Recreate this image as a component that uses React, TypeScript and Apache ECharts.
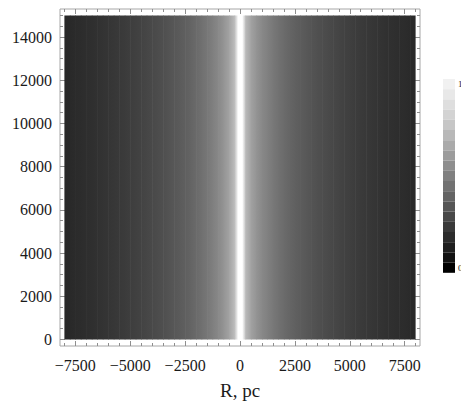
import React, { useEffect, useRef } from 'react';
import * as echarts from 'echarts';

// Sample positions along R (pc) and the brightness (0 = black, 1 = white)
const rCenters = [
  -8000, -7750, -7500, -7250, -7000, -6750, -6500, -6250, -6000, -5750, -5500, -5250, -5000, -4750, -4500, -4250,
  -4000, -3750, -3500, -3250, -3000, -2750, -2500, -2250, -2000, -1750, -1500, -1250, -1000, -750, -500, -250,
  -100, 0, 100,
  250, 500, 750, 1000, 1250, 1500, 1750, 2000, 2250, 2500, 2750, 3000, 3250, 3500, 3750, 4000,
  4250, 4500, 4750, 5000, 5250, 5500, 5750, 6000, 6250, 6500, 6750, 7000, 7250, 7500, 7750, 8000,
];
const intensity = [
  0.157, 0.161, 0.169, 0.173, 0.18, 0.184, 0.192, 0.2, 0.208, 0.216, 0.224, 0.231, 0.243, 0.251, 0.263, 0.275,
  0.286, 0.298, 0.31, 0.325, 0.341, 0.357, 0.373, 0.392, 0.416, 0.439, 0.467, 0.498, 0.533, 0.58, 0.639, 0.745,
  1.0, 1.0, 1.0,
  0.725, 0.63, 0.578, 0.535, 0.5, 0.471, 0.443, 0.42, 0.396, 0.376, 0.361, 0.345, 0.329, 0.314, 0.302, 0.29,
  0.278, 0.267, 0.255, 0.247, 0.235, 0.227, 0.22, 0.212, 0.204, 0.196, 0.188, 0.184, 0.176, 0.173, 0.165, 0.161,
];
const yExtent = [0, 15000];
const xRange = [-8200, 8200];
const yRange = [-300, 15300];
const shadeStops = ['#000000', '#ffffff'];

const xMajorTicks = [-7500, -5000, -2500, 0, 2500, 5000, 7500];
const xMinorTicks = [
  -8000, -7000, -6500, -6000, -5500, -4500, -4000, -3500, -3000, -2000, -1500, -1000, -500,
  500, 1000, 1500, 2000, 3000, 3500, 4000, 4500, 5500, 6000, 6500, 7000, 8000,
];
const yMajorTicks = [0, 2000, 4000, 6000, 8000, 10000, 12000, 14000];
const yMinorTicks = [
  500, 1000, 1500, 2500, 3000, 3500, 4500, 5000, 5500, 6500, 7000, 7500, 8500, 9000, 9500,
  10500, 11000, 11500, 12500, 13000, 13500, 14500, 15000,
];
// Colour-bar steps, bottom (0) to top (1)
const legendGrays = [
  '#000000', '#121212', '#1f1f1f', '#2c2c2c', '#3a3a3a', '#484848', '#565656', '#646464', '#727272', '#808080',
  '#8e8e8e', '#9c9c9c', '#aaaaaa', '#b8b8b8', '#c6c6c6', '#d3d3d3', '#dedede', '#e8e8e8', '#f1f1f1',
];
const xName = 'R, pc';

const FONT = "'Liberation Serif', 'DejaVu Serif', serif";
const tickLine = { color: '#8e8e8e', width: 1 };

function xAxis(position: string, values: number[], len: number, withLabels: boolean) {
  return {
    type: 'value',
    position,
    min: xRange[0],
    max: xRange[1],
    axisLine: { show: false, onZero: false },
    splitLine: { show: false },
    axisTick: { show: true, inside: true, length: len, customValues: values, lineStyle: tickLine },
    axisLabel: withLabels
      ? {
          show: true,
          customValues: values,
          formatter: (v: number) => String(v).replace('-', '\u2212'),
          margin: 11,
          fontFamily: FONT,
          fontSize: 16,
          color: '#1a1a1a',
        }
      : { show: false },
  };
}

function yAxis(position: string, values: number[], len: number, withLabels: boolean) {
  return {
    type: 'value',
    position,
    min: yRange[0],
    max: yRange[1],
    axisLine: { show: false, onZero: false },
    splitLine: { show: false },
    axisTick: { show: true, inside: true, length: len, customValues: values, lineStyle: tickLine },
    axisLabel: withLabels
      ? {
          show: true,
          customValues: values,
          formatter: (v: number) => String(v),
          margin: 8,
          fontFamily: FONT,
          fontSize: 16,
          color: '#1a1a1a',
        }
      : { show: false },
  };
}

export default function App() {
  const ref = useRef<HTMLDivElement>(null);
  useEffect(() => {
    document.body.style.margin = '0';
    if (!ref.current) return;
    const chart = echarts.init(ref.current, undefined, { renderer: 'svg' });

    // one strip between each pair of neighbouring samples
    const strips = rCenters.slice(0, -1).map((c, i) => [
      c, yExtent[0], rCenters[i + 1], yExtent[1], intensity[i], intensity[i + 1],
    ]);

    const n = legendGrays.length;
    const pieces = legendGrays.map((g, i) => ({
      min: i / n,
      max: (i + 1) / n,
      color: g,
      label: i === 0 ? '0' : i === n - 1 ? '1' : ' ',
    }));

    const xAxes = [
      {
        ...xAxis('bottom', xMajorTicks, 5, true),
        name: xName,
        nameLocation: 'middle',
        nameGap: 35,
        nameTextStyle: { fontFamily: FONT, fontSize: 19, color: '#1a1a1a' },
      },
      xAxis('bottom', xMinorTicks, 3, false),
      xAxis('top', xMajorTicks, 5, false),
      xAxis('top', xMinorTicks, 3, false),
    ];
    const yAxes = [
      yAxis('left', yMajorTicks, 5, true),
      yAxis('left', yMinorTicks, 3, false),
      yAxis('right', yMajorTicks, 5, false),
      yAxis('right', yMinorTicks, 3, false),
    ];

    chart.setOption({
      animation: false,
      grid: {
        left: 60,
        right: 41,
        top: 9,
        bottom: 64,
        show: true,
        borderColor: '#a6a6a6',
        borderWidth: 1,
        backgroundColor: 'transparent',
      },
      xAxis: xAxes,
      yAxis: yAxes,
      visualMap: [
        {
          type: 'piecewise',
          seriesIndex: 1,
          orient: 'vertical',
          left: 443,
          top: 79,
          padding: 0,
          itemWidth: 12,
          itemHeight: 10.2,
          itemGap: 0,
          itemSymbol: 'rect',
          align: 'left',
          textGap: 3,
          showLabel: true,
          selectedMode: false,
          pieces,
          textStyle: { fontFamily: FONT, fontSize: 9, lineHeight: 9, color: '#222' },
        },
      ],
      series: [
        {
          type: 'custom',
          silent: true,
          xAxisIndex: 0,
          yAxisIndex: 0,
          encode: { x: [0, 2], y: [1, 3] },
          data: strips,
          renderItem: (params: any, api: any) => {
            const p0 = api.coord([api.value(0), api.value(3)]);
            const p1 = api.coord([api.value(2), api.value(1)]);
            const c0 = echarts.color.lerp(api.value(4), shadeStops);
            const c1 = echarts.color.lerp(api.value(5), shadeStops);
            const last = params.dataIndex === strips.length - 1;
            return {
              type: 'rect',
              shape: {
                x: p0[0],
                y: p0[1],
                width: p1[0] - p0[0] + (last ? 0 : 0.6),
                height: p1[1] - p0[1],
              },
              style: {
                fill: {
                  type: 'linear',
                  x: 0,
                  y: 0,
                  x2: 1,
                  y2: 0,
                  colorStops: [
                    { offset: 0, color: c0 },
                    { offset: 1, color: c1 },
                  ],
                },
                stroke: null,
              },
            };
          },
        },
        {
          type: 'custom',
          silent: true,
          xAxisIndex: 0,
          yAxisIndex: 0,
          data: [],
          renderItem: () => null,
        },
      ],
    });
    return () => chart.dispose();
  }, []);
  return <div ref={ref} style={{ position: 'absolute', left: 0, top: 0, width: 461, height: 410 }} />;
}
